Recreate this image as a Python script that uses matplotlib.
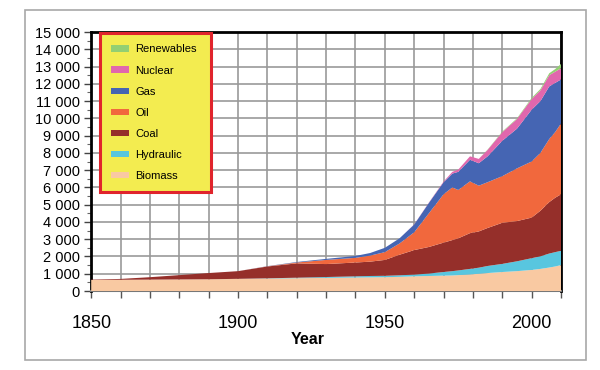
import matplotlib
matplotlib.use("Agg")
import matplotlib.pyplot as plt
import matplotlib.patches as mpatches
from matplotlib.ticker import MultipleLocator, FuncFormatter

plt.rcParams['font.family'] = ['Liberation Sans', 'DejaVu Sans']

# data (Mtoe)
years = [1850, 1860, 1870, 1880, 1890, 1900, 1910, 1920, 1930, 1940, 1945, 1950, 1955, 1960,
         1965, 1970, 1973, 1975, 1979, 1982, 1985, 1990, 1995, 2000, 2003, 2006, 2008, 2010]
biomass = [640, 650, 660, 670, 680, 700, 720, 740, 760, 780, 790, 800, 820, 850,
           870, 890, 900, 920, 960, 1000, 1040, 1100, 1150, 1220, 1280, 1360, 1420, 1500]
hydraulic = [0, 0, 0, 0, 0, 5, 15, 30, 50, 70, 80, 80, 90, 100,
             140, 210, 250, 270, 320, 350, 410, 470, 570, 680, 730, 810, 830, 830]
coal = [20, 50, 140, 250, 360, 445, 685, 830, 750, 800, 830, 920, 1190, 1420,
        1540, 1700, 1800, 1860, 2070, 2100, 2200, 2380, 2330, 2350, 2640, 2980, 3150, 3270]
oil = [0, 0, 0, 0, 0, 0, 10, 50, 240, 270, 350, 450, 650, 1030,
       1950, 2800, 3050, 2800, 3000, 2650, 2650, 2700, 3050, 3250, 3350, 3650, 3800, 4100]
gas = [0, 0, 0, 0, 0, 0, 10, 30, 60, 110, 150, 250, 300, 450,
       600, 700, 800, 1050, 1250, 1300, 1500, 2050, 2300, 3000, 3000, 3050, 2850, 2550]
nuclear = [0, 0, 0, 0, 0, 0, 0, 0, 0, 0, 0, 0, 0, 10,
           20, 40, 100, 130, 200, 250, 370, 500, 560, 620, 620, 650, 650, 650]
renewables = [0, 0, 0, 0, 0, 0, 0, 0, 0, 0, 0, 0, 0, 0,
              0, 0, 0, 0, 0, 0, 20, 30, 40, 60, 80, 110, 150, 250]

labels = ['Biomass', 'Hydraulic', 'Coal', 'Oil', 'Gas', 'Nuclear', 'Renewables']
colors = ['#f9c9a2', '#58c6df', '#952f2a', '#f1683d', '#4565b3', '#e167ad', '#93cf72']

fig = plt.figure(figsize=(6, 3.7), dpi=100)
ax = fig.add_axes([0.152, 0.2135, 0.783, 0.70])

# outer frame
fig.patches.append(mpatches.Rectangle((0.042, 0.027), 0.935, 0.946, transform=fig.transFigure,
                                      fill=False, edgecolor='#a8a8a8', linewidth=1.2))

polys = ax.stackplot(years, biomass, hydraulic, coal, oil, gas, nuclear, renewables,
                     colors=colors, labels=labels, linewidth=0, zorder=3)

ax.set_xlim(1850, 2010)
ax.set_ylim(0, 15000)
ax.xaxis.set_major_locator(MultipleLocator(10))
ax.yaxis.set_major_locator(MultipleLocator(1000))
ax.yaxis.set_minor_locator(MultipleLocator(500))
ax.yaxis.set_major_formatter(FuncFormatter(lambda v, p: f"{int(v):,}".replace(',', ' ')))
ax.xaxis.set_major_formatter(FuncFormatter(lambda v, p: str(int(v)) if int(v) % 50 == 0 else ''))
ax.grid(True, which='major', color='#999999', linewidth=1.2, zorder=0)
ax.set_axisbelow(True)

ax.tick_params(axis='y', which='major', labelsize=10.5, length=5, width=1, color='#444444', pad=3)
ax.tick_params(axis='y', which='minor', length=3, width=0.8, color='#666666')
ax.tick_params(axis='x', labelsize=13, length=5, width=1, color='#555555', pad=12)

for side in ['left', 'top', 'right']:
    ax.spines[side].set_color('black')
    ax.spines[side].set_linewidth(2)
ax.spines['bottom'].set_color('#777777')
ax.spines['bottom'].set_linewidth(1.5)

ax.set_xlabel('Year', fontsize=11.5, fontweight='bold', x=0.46, labelpad=0)

handles, labs = ax.get_legend_handles_labels()
leg = ax.legend(handles[::-1], labs[::-1], loc='upper left',
                bbox_to_anchor=(0.018, 0.378, 0.238, 0.617), mode='expand',
                fontsize=8, labelspacing=1.0, handlelength=1.6, handleheight=0.5,
                handletextpad=0.6, borderpad=1.0, fancybox=False, frameon=True,
                borderaxespad=0)
leg.get_frame().set_facecolor('#f3ec50')
leg.get_frame().set_edgecolor('#e0242c')
leg.get_frame().set_linewidth(2.2)
leg.get_frame().set_alpha(1)
leg.set_zorder(5)

fig.savefig('out.png', dpi=100)
